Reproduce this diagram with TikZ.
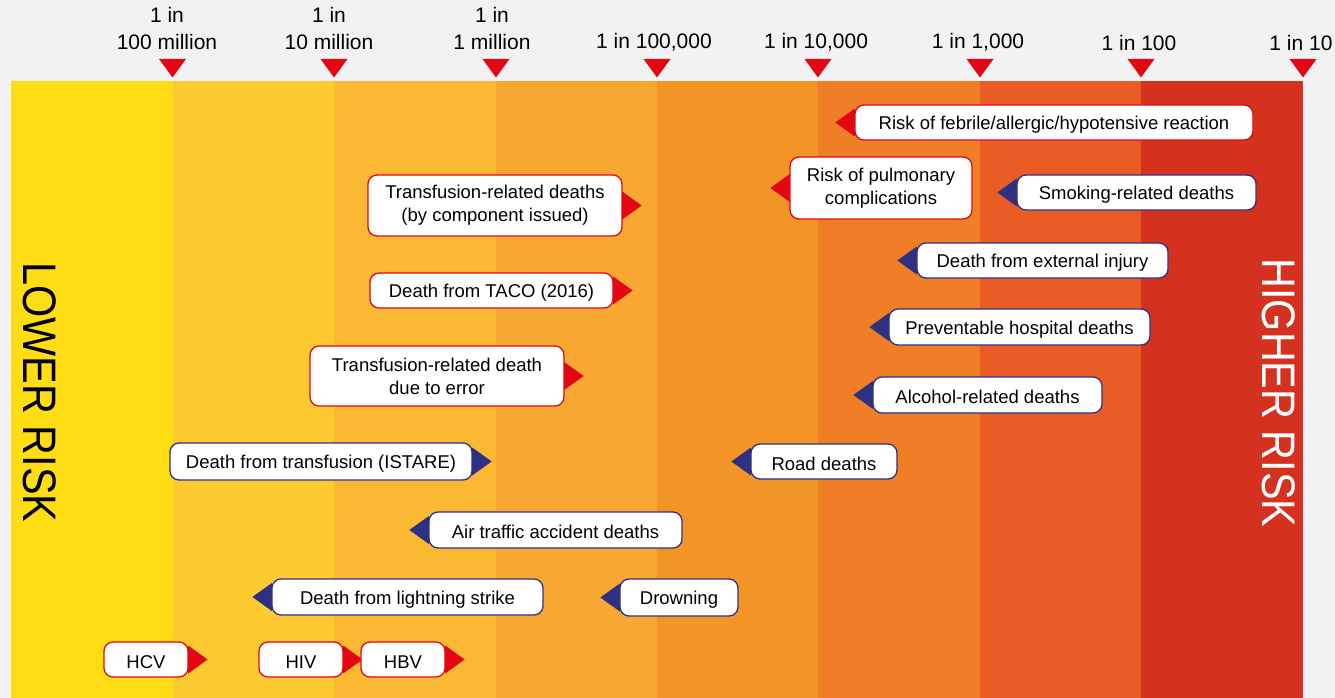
\documentclass[tikz,border=0pt]{standalone}
\usepackage{fontspec}
\setmainfont{Liberation Sans}
\definecolor{bgc}{HTML}{F2F2F2}
\definecolor{tred}{HTML}{E30613}
\definecolor{tnavy}{HTML}{2E3182}
\definecolor{bA}{HTML}{FFDD15}
\definecolor{bB}{HTML}{FECA31}
\definecolor{bC}{HTML}{FBB933}
\definecolor{bD}{HTML}{F7A833}
\definecolor{bE}{HTML}{F39426}
\definecolor{bF}{HTML}{EF7E27}
\definecolor{bG}{HTML}{EA5C26}
\definecolor{bH}{HTML}{D5311F}
\newcommand\ptrL[2]{\fill[#2] ([yshift=14pt,xshift=0.5pt]#1.west) -- ([xshift=-19pt]#1.west) -- ([yshift=-14pt,xshift=0.5pt]#1.west) -- cycle;}
\newcommand\ptrR[2]{\fill[#2] ([yshift=14pt,xshift=-0.5pt]#1.east) -- ([xshift=19pt]#1.east) -- ([yshift=-14pt,xshift=-0.5pt]#1.east) -- cycle;}
\tikzset{
  callbox/.style={fill=white, rounded corners=9pt, line width=1.3pt, align=center, inner sep=0pt,
    font=\fontsize{18.5}{23}\selectfont, text=black, execute at begin node={\rule{0pt}{18pt}}},
  cred/.style={callbox, draw=tred},
  cnavy/.style={callbox, draw=tnavy},
  scalelab/.style={font=\fontsize{21}{27}\selectfont, align=center, text=black, inner sep=0pt},
  sidelab/.style={font=\fontsize{47}{50}\selectfont, rotate=-90, inner sep=0pt}
}
\begin{document}
\begin{tikzpicture}[x=1pt,y=-1pt]
\useasboundingbox (0,0) rectangle (1335,698);
\fill[bgc] (0,0) rectangle (1335,698);
% bands
\fill[bA] (11,81) rectangle (172.5,698);
\fill[bB] (172.5,81) rectangle (334,698);
\fill[bC] (334,81) rectangle (496,698);
\fill[bD] (496,81) rectangle (657,698);
\fill[bE] (657,81) rectangle (818,698);
\fill[bF] (818,81) rectangle (980,698);
\fill[bG] (980,81) rectangle (1141,698);
\fill[bH] (1141,81) rectangle (1303,698);
% ticks
\foreach \t in {172.5,334,496,657,818,980,1141,1303}
  \fill[tred] (\t-13.5,59) -- (\t+13.5,59) -- (\t,77.5) -- cycle;
% scale labels
\node[scalelab] (s1) at (167,28.5) {1 in\\100 million};
\node[scalelab] (s2) at (329,28.5) {1 in\\10 million};
\node[scalelab] (s3) at (492,28.5) {1 in\\1 million};
\node[scalelab] (s4) at (654,42.5) {1 in 100,000};
\node[scalelab] (s5) at (816,42.5) {1 in 10,000};
\node[scalelab] (s6) at (978,42.5) {1 in 1,000};
\node[scalelab] (s7) at (1139,42.5) {1 in 100};
\node[scalelab] (s8) at (1301,42.5) {1 in 10};
% side labels
\node[sidelab, text=black] (low) at (40,392.5) {\scalebox{0.88}[1]{LOWER RISK}};
\node[sidelab, text=white] (high) at (1278.5,393) {\scalebox{0.88}[1]{HIGHER RISK}};
% callouts
\node[cred, minimum width=398pt, minimum height=35pt] (febrile) at (1054,122.5) {Risk of febrile/allergic/hypotensive reaction};
\ptrL{febrile}{tred}
\node[cred, minimum width=182pt, minimum height=62pt] (pulm) at (881,188) {Risk of pulmonary\\complications};
\ptrL{pulm}{tred}
\node[cnavy, minimum width=239pt, minimum height=35pt] (smoke) at (1136.5,192.5) {Smoking-related deaths};
\ptrL{smoke}{tnavy}
\node[cred, minimum width=254pt, minimum height=61pt] (tdeaths) at (495,205.5) {Transfusion-related deaths\\(by component issued)};
\ptrR{tdeaths}{tred}
\node[cnavy, minimum width=251pt, minimum height=35pt] (extinj) at (1042.5,260.5) {Death from external injury};
\ptrL{extinj}{tnavy}
\node[cred, minimum width=243pt, minimum height=35pt] (taco) at (491.5,290.5) {Death from TACO (2016)};
\ptrR{taco}{tred}
\node[cnavy, minimum width=261pt, minimum height=36pt] (prevent) at (1019.5,327) {Preventable hospital deaths};
\ptrL{prevent}{tnavy}
\node[cred, minimum width=254pt, minimum height=60pt] (error) at (437,376) {Transfusion-related death\\due to error};
\ptrR{error}{tred}
\node[cnavy, minimum width=229pt, minimum height=36pt] (alcohol) at (987.5,395) {Alcohol-related deaths};
\ptrL{alcohol}{tnavy}
\node[cnavy, minimum width=302pt, minimum height=37pt] (istare) at (321,461.5) {Death from transfusion (ISTARE)};
\ptrR{istare}{tnavy}
\node[cnavy, minimum width=146pt, minimum height=35pt] (road) at (824,461.5) {Road deaths};
\ptrL{road}{tnavy}
\node[cnavy, minimum width=253pt, minimum height=36pt] (air) at (555.5,530) {Air traffic accident deaths};
\ptrL{air}{tnavy}
\node[cnavy, minimum width=271pt, minimum height=36pt] (light) at (407.5,597) {Death from lightning strike};
\ptrL{light}{tnavy}
\node[cnavy, minimum width=118pt, minimum height=37pt] (drown) at (679,597.5) {Drowning};
\ptrL{drown}{tnavy}
\node[cred, minimum width=84pt, minimum height=35pt] (hcv) at (146,659.5) {HCV};
\ptrR{hcv}{tred}
\node[cred, minimum width=84pt, minimum height=35pt] (hiv) at (301,659.5) {HIV};
\ptrR{hiv}{tred}
\node[cred, minimum width=84pt, minimum height=35pt] (hbv) at (403,659.5) {HBV};
\ptrR{hbv}{tred}
\end{tikzpicture}
\end{document}
